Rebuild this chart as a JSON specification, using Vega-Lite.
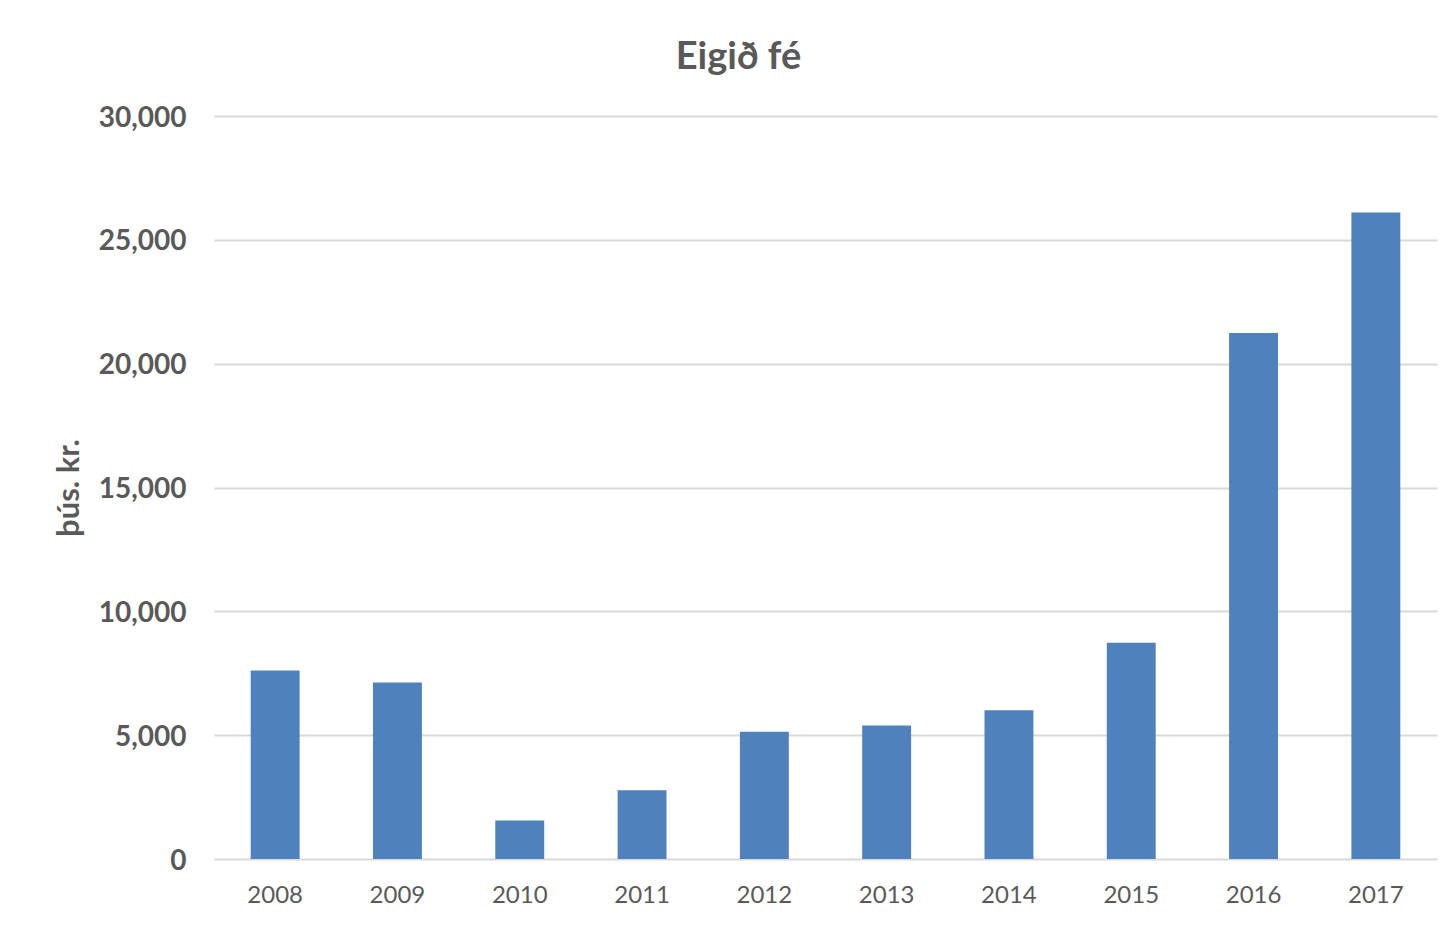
{
  "$schema": "https://vega.github.io/schema/vega-lite/v6.json",
  "autosize": "none",
  "width": 1223,
  "height": 743,
  "padding": {"left": 214, "top": 116, "right": 15, "bottom": 66},
  "background": "white",
  "title": {
    "text": "Eigið fé",
    "anchor": "middle",
    "dx": -87,
    "offset": 27,
    "font": "Lato",
    "fontSize": 38,
    "fontWeight": "bold",
    "color": "#595959"
  },
  "data": {
    "values": [
      {"year": "2008", "value": 7615},
      {"year": "2009", "value": 7130},
      {"year": "2010", "value": 1552},
      {"year": "2011", "value": 2777},
      {"year": "2012", "value": 5133},
      {"year": "2013", "value": 5392},
      {"year": "2014", "value": 6011},
      {"year": "2015", "value": 8731},
      {"year": "2016", "value": 21240},
      {"year": "2017", "value": 26100}
    ]
  },
  "mark": {"type": "bar", "color": "#4f81bd"},
  "encoding": {
    "x": {
      "field": "year",
      "type": "ordinal",
      "scale": {"paddingInner": 0.6, "paddingOuter": 0.3},
      "axis": {
        "title": null,
        "labelAngle": 0,
        "labelFont": "Lato",
        "labelFontSize": 24,
        "labelColor": "#595959",
        "labelPadding": 24,
        "ticks": false,
        "domain": false
      }
    },
    "y": {
      "field": "value",
      "type": "quantitative",
      "scale": {"domain": [0, 30000]},
      "axis": {
        "title": "þús. kr.",
        "titleFont": "Lato",
        "titleFontSize": 31,
        "titleFontWeight": "bold",
        "titleColor": "#595959",
        "titlePadding": 13,
        "values": [0, 5000, 10000, 15000, 20000, 25000, 30000],
        "format": ",d",
        "labelFont": "Lato",
        "labelFontSize": 28,
        "labelFontWeight": "bold",
        "labelColor": "#595959",
        "labelPadding": 28,
        "labelOffset": 2,
        "ticks": false,
        "domain": false,
        "gridColor": "#d9d9d9",
        "gridWidth": 2
      }
    }
  },
  "config": {
    "view": {"stroke": null}
  }
}
